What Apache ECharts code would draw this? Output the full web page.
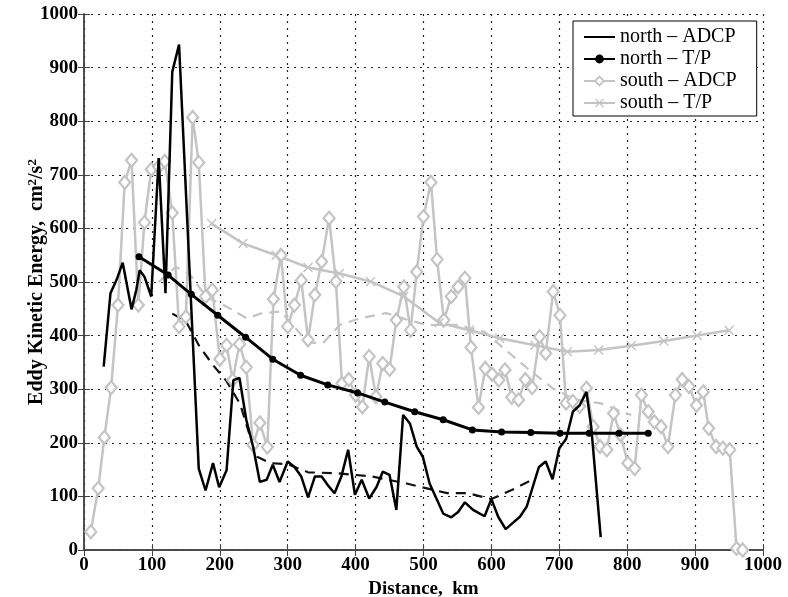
<!DOCTYPE html>
<html>
<head>
<meta charset="utf-8">
<title>eke</title>
<script src="https://cdn.jsdelivr.net/npm/echarts@6/dist/echarts.min.js"></script>
<style>html,body{margin:0;padding:0;background:#fff}</style>
</head>
<body>
<div id="main" style="width:788px;height:597px;"></div>
<script>
// distance (km), eddy kinetic energy (cm2/s2)
var northAdcp = [[29,342],[39,479],[48,504],[57,536],[70,449],[77,485],[82,522],[89,510],[99,473],[110,731],[120,479],[130,892],[140,943],[169,152],[179,111],[190,162],[199,117],[210,149],[220,317],[229,321],[239,243],[249,193],[259,127],[269,131],[278,159],[288,127],[300,165],[310,155],[320,137],[330,98],[340,137],[350,137],[359,121],[369,106],[379,137],[389,187],[399,103],[409,131],[420,96],[431,118],[440,146],[450,140],[460,75],[470,252],[480,236],[490,193],[499,174],[509,124],[519,96],[529,68],[541,61],[551,71],[561,89],[573,75],[590,63],[600,95],[610,62],[621,39],[632,51],[642,62],[652,81],[661,118],[670,155],[680,165],[690,132],[700,190],[710,207],[720,258],[730,270],[740,295],[747,230],[761,24]];
var northTP = [[81,547],[124,513],[158,477],[197,438],[238,397],[278,356],[319,326],[359,308],[403,293],[443,276],[487,258],[529,243],[572,224],[615,220],[658,219],[701,218],[744,218],[788,218],[831,218]];
var southAdcp = [[10,34],[21,115],[30,210],[40,303],[50,457],[60,686],[70,727],[80,457],[89,611],[99,710],[110,715],[119,725],[130,629],[140,417],[150,435],[160,807],[169,723],[179,473],[189,485],[200,356],[210,382],[219,317],[229,384],[239,341],[249,196],[259,237],[270,192],[279,468],[290,550],[300,417],[310,457],[320,503],[330,392],[340,476],[350,538],[361,619],[371,501],[380,311],[390,318],[400,289],[410,267],[420,361],[430,286],[440,348],[450,337],[460,429],[471,491],[481,410],[490,519],[500,622],[511,686],[520,542],[530,429],[541,473],[551,491],[561,507],[570,378],[581,266],[591,339],[601,328],[611,317],[620,336],[630,285],[640,280],[650,318],[660,303],[671,398],[680,367],[691,482],[701,438],[710,274],[720,277],[730,268],[740,302],[750,230],[760,193],[770,187],[780,255],[790,215],[801,162],[811,152],[821,289],[831,258],[840,239],[850,230],[860,193],[871,289],[881,318],[891,305],[902,270],[912,295],[920,227],[931,193],[941,190],[951,187],[961,3],[970,0]];
var southTP = [[188,609],[234,572],[283,550],[330,527],[376,516],[422,501],[471,473],[523,424],[568,410],[612,395],[664,382],[712,370],[758,373],[806,381],[854,390],[903,400],[950,410]];
var northDash = [[130,441],[150,427],[170,380],[190,345],[210,315],[230,272],[245,210],[255,174],[275,162],[300,160],[330,145],[375,143],[425,137],[475,124],[505,115],[535,106],[565,106],[600,95],[630,112],[660,131]];
var southDash = [[110,500],[135,528],[155,516],[180,472],[210,454],[240,432],[260,441],[290,445],[330,387],[352,386],[377,420],[406,432],[445,442],[475,430],[504,420],[548,420],[590,407],[622,372],[652,340],[690,302],[725,280],[760,274],[806,252]];

var legendNames = ['north – ADCP', 'north – T/P', 'south – ADCP', 'south – T/P'];
var grayC = '#c4c4c4';
var crossPath = 'path://M0,1 L1,0 L5,4 L9,0 L10,1 L6,5 L10,9 L9,10 L5,6 L1,10 L0,9 L4,5 Z';
var serif = '"Liberation Serif", "DejaVu Serif", serif';

var myChart = echarts.init(document.getElementById('main'));
var tickLbl = {color: '#000', fontFamily: serif, fontWeight: 'bold', fontSize: 19, margin: 6,
  formatter: function (v) { return String(v); }};
var frame = {show: true, lineStyle: {color: '#444', width: 1.5}};
var inTick = {show: true, inside: true, length: 6, lineStyle: {color: '#444'}};
var dots = {lineStyle: {color: '#222', type: [2, 5], width: 1.2}};

var option = {
  animation: false,
  grid: {left: 84, right: 25, top: 14, bottom: 47, outerBoundsMode: 'none', containLabel: false},
  legend: {
    data: [
      {name: legendNames[0], itemStyle: {color: 'rgba(0,0,0,0)', borderWidth: 0}},
      legendNames[1], legendNames[2], legendNames[3]
    ],
    orient: 'vertical',
    left: 573, top: 21,
    itemWidth: 31, itemHeight: 11, itemGap: 2,
    padding: [6, 20, 3, 10],
    backgroundColor: '#fff',
    borderColor: '#000', borderWidth: 1,
    textStyle: {fontFamily: serif, fontSize: 20, color: '#000'}
  },
  xAxis: [{
    type: 'value', min: 0, max: 1000, interval: 100,
    name: 'Distance,  km', nameLocation: 'middle', nameGap: 30, nameMoveOverlap: false,
    nameTextStyle: {fontFamily: serif, fontWeight: 'bold', fontSize: 19, color: '#000'},
    axisLine: frame, axisTick: inTick, axisLabel: tickLbl, splitLine: dots
  }, {
    type: 'value', min: 0, max: 1000, interval: 100, position: 'top',
    axisLine: frame, axisTick: inTick, axisLabel: {show: false}, splitLine: {show: false}
  }],
  yAxis: [{
    type: 'value', min: 0, max: 1000, interval: 100,
    name: 'Eddy Kinetic Energy,  cm{s|2}/s{s|2}', nameLocation: 'middle', nameGap: 36, nameRotate: 90,
    nameMoveOverlap: false,
    nameTextStyle: {fontFamily: serif, fontWeight: 'bold', fontSize: 20, color: '#000',
      rich: {s: {fontFamily: serif, fontWeight: 'bold', fontSize: 13, color: '#000', padding: [0, 0, 9, 0]}}},
    axisLine: frame, axisTick: inTick, axisLabel: tickLbl, splitLine: dots
  }, {
    type: 'value', min: 0, max: 1000, interval: 100, position: 'right',
    axisLine: frame, axisTick: inTick, axisLabel: {show: false}, splitLine: {show: false}
  }],
  series: [
    {name: 'south dashed', type: 'line', data: southDash, showSymbol: false, z: 1,
     lineStyle: {color: grayC, width: 2.2, type: [10, 7]}},
    {name: 'north dashed', type: 'line', data: northDash, showSymbol: false, z: 1,
     lineStyle: {color: '#111', width: 2.2, type: [10, 7]}},
    {name: 'south – ADCP', type: 'line', data: southAdcp, symbol: 'diamond', symbolSize: [11, 13], z: 2,
     color: grayC,
     lineStyle: {color: grayC, width: 2.5},
     itemStyle: {color: '#fff', borderColor: grayC, borderWidth: 2.2}},
    {name: 'south – T/P', type: 'line', data: southTP, symbol: crossPath, symbolSize: 10, z: 2,
     color: grayC,
     lineStyle: {color: grayC, width: 2.5},
     itemStyle: {color: grayC}},
    {name: 'north – ADCP', type: 'line', data: northAdcp, symbol: 'circle', showSymbol: false, z: 3,
     color: '#000',
     lineStyle: {color: '#000', width: 2.5}},
    {name: 'north – T/P', type: 'line', data: northTP, symbol: 'circle', symbolSize: 7, z: 3,
     color: '#000',
     lineStyle: {color: '#000', width: 3},
     itemStyle: {color: '#000'}}
  ]
};
myChart.setOption(option);
</script>
</body>
</html>
